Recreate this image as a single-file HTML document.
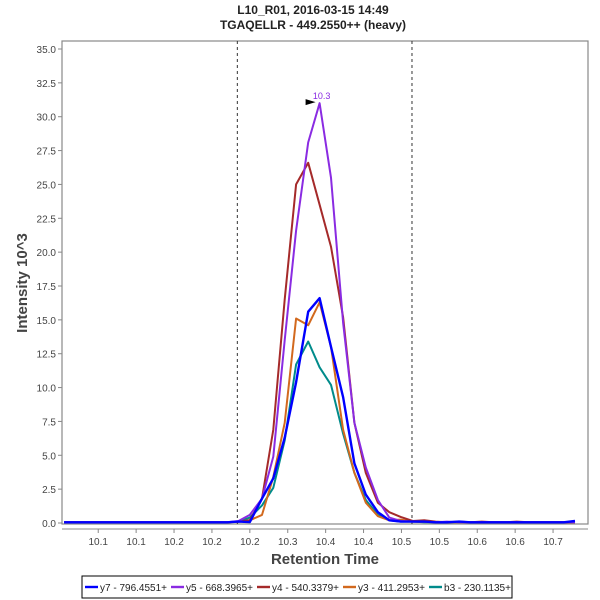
<!DOCTYPE html>
<html><head><meta charset="utf-8"><style>
body{margin:0;background:#fff;font-family:"Liberation Sans",sans-serif;}
svg{display:block}
</style></head><body>
<svg id="chart" width="600" height="600" xmlns="http://www.w3.org/2000/svg">
<rect width="600" height="600" fill="#fff"/>
<text x="313" y="14" text-anchor="middle" font-size="12" font-weight="bold" fill="#222">L10_R01, 2016-03-15 14:49</text>
<text x="313" y="29" text-anchor="middle" font-size="12" font-weight="bold" fill="#222">TGAQELLR - 449.2550++ (heavy)</text>
<g id="plot"></g>
<text x="325" y="564" text-anchor="middle" font-size="15" font-weight="bold" fill="#444">Retention Time</text>
<text transform="translate(27,283) rotate(-90)" text-anchor="middle" font-size="15" font-weight="bold" fill="#444">Intensity 10^3</text>
<g id="legend"></g>
</svg>
<script>
const times=[9.963,9.979,9.994,10.009,10.025,10.040,10.055,10.070,10.086,10.101,10.116,10.132,10.147,10.162,10.178,10.193,10.208,10.224,10.239,10.254,10.269,10.285,10.300,10.315,10.331,10.346,10.361,10.377,10.392,10.407,10.423,10.438,10.453,10.468,10.484,10.499,10.514,10.530,10.545,10.560,10.576,10.591,10.606,10.622,10.637];
const y7=[0.05,0.05,0.05,0.05,0.05,0.05,0.05,0.05,0.05,0.05,0.05,0.05,0.05,0.05,0.05,0.1,0.07,1.8,3.3,6.3,10.4,15.6,16.6,13.0,9.3,4.4,2.1,0.8,0.2,0.1,0.1,0.1,0.05,0.05,0.1,0.05,0.05,0.05,0.05,0.05,0.05,0.05,0.05,0.05,0.15];
const y5=[0.05,0.05,0.05,0.05,0.05,0.05,0.05,0.05,0.05,0.05,0.05,0.05,0.05,0.05,0.05,0.15,0.6,1.8,4.9,13.5,21.6,28.1,31.0,25.5,14.8,7.4,4.1,1.7,0.4,0.15,0.1,0.1,0.05,0.1,0.05,0.05,0.05,0.05,0.05,0.05,0.05,0.05,0.05,0.05,0.05];
const y4=[0.05,0.05,0.05,0.05,0.05,0.05,0.05,0.05,0.05,0.05,0.05,0.05,0.05,0.05,0.05,0.1,0.2,1.8,6.9,16.5,25.0,26.6,23.5,20.4,15.2,7.4,3.7,1.5,0.8,0.45,0.15,0.2,0.1,0.05,0.1,0.05,0.1,0.05,0.05,0.1,0.05,0.05,0.05,0.05,0.05];
const y3=[0.05,0.05,0.05,0.05,0.05,0.05,0.05,0.05,0.05,0.05,0.05,0.05,0.05,0.05,0.05,0.1,0.2,0.6,3.4,7.4,15.1,14.6,16.3,13.0,6.9,3.7,1.5,0.5,0.2,0.25,0.1,0.1,0.05,0.05,0.05,0.05,0.05,0.05,0.05,0.05,0.05,0.05,0.05,0.05,0.05];
const b3=[0.05,0.05,0.05,0.05,0.05,0.05,0.05,0.05,0.05,0.05,0.05,0.05,0.05,0.05,0.05,0.1,0.4,1.3,2.6,6.1,11.7,13.4,11.5,10.2,6.6,3.7,1.7,0.6,0.2,0.1,0.1,0.05,0.05,0.05,0.05,0.05,0.05,0.05,0.05,0.05,0.05,0.05,0.05,0.05,0.05];
const seriesNames=["y7 - 796.4551+","y5 - 668.3965+","y4 - 540.3379+","y3 - 411.2953+","b3 - 230.1135+"];
const xTickValues=[10.008,10.058,10.108,10.158,10.208,10.258,10.308,10.358,10.408,10.458,10.508,10.558,10.608];
const xTickLabels=["10.1","10.1","10.2","10.2","10.2","10.3","10.4","10.4","10.5","10.5","10.6","10.6","10.7"];
const yTickValues=[0,2.5,5,7.5,10,12.5,15,17.5,20,22.5,25,27.5,30,32.5,35];
const boundaryTimes=[10.1915,10.4219];
const peakTime=10.300, peakValue=31.0, peakLabel="10.3";

const NS="http://www.w3.org/2000/svg";
const L=62,R=588,T=41,B=524;
const xmin=9.9602,xmax=10.6541;
const X=t=>L+(t-xmin)/(xmax-xmin)*(R-L);
const Y=v=>523-v*(523-49)/35;
function mk(tag,attrs,parent){const e=document.createElementNS(NS,tag);for(const k in attrs)e.setAttribute(k,attrs[k]);parent.appendChild(e);return e;}
const plot=document.getElementById('plot');
const frame=mk('rect',{x:L,y:T,width:R-L,height:B-T,fill:'none',stroke:'#888','stroke-width':1.2},plot);


yTickValues.forEach(v=>{
  const g=mk('g',{},plot);
  
  
  mk('line',{x1:L-4,x2:L,y1:Y(v),y2:Y(v),stroke:'#888'},g);
  const t=mk('text',{x:L-6,y:Y(v)+4,'text-anchor':'end','font-size':10,fill:'#444'},g);
  t.textContent=v.toFixed(1);
});
mk('line',{x1:L,x2:R,y1:B+5,y2:B+5,stroke:'#888'},plot);
xTickValues.forEach((v,i)=>{
  const g=mk('g',{},plot);
  
  
  mk('line',{x1:X(v),x2:X(v),y1:B+5,y2:B+9,stroke:'#888'},g);
  const t=mk('text',{x:X(v),y:B+21,'text-anchor':'middle','font-size':10,fill:'#444'},g);
  t.textContent=xTickLabels[i];
});
boundaryTimes.forEach(b=>{
  const l=mk('line',{x1:X(b),x2:X(b),y1:T,y2:B,stroke:'#333','stroke-dasharray':'3,3','stroke-width':1},plot);
  
  
});
const colors=["#0000ff","#8a2be2","#a52a2a","#d2691e","#008b8b"];
const allSeries=[y7,y5,y4,y3,b3];
const order=[4,3,2,1,0];
order.forEach(si=>{
  const d=allSeries[si].map((v,i)=>(i?'L':'M')+X(times[i]).toFixed(1)+','+Y(v).toFixed(1)).join(' ');
  const p=mk('path',{d:d,fill:'none',stroke:colors[si],'stroke-width':si===0?2.4:2,'stroke-linejoin':'round'},plot);
  
  
});
const px=X(peakTime),py=Y(peakValue);
const tri=mk('path',{d:`M${px-14},${py-4} L${px-4},${py-1} L${px-14},${py+2} Z`,fill:'#000'},plot);


const pl=mk('text',{x:px+2,y:py-4,'text-anchor':'middle','font-size':9,fill:'#8a2be2'},plot);


pl.textContent=peakLabel;

const lg=document.getElementById('legend');
mk('rect',{x:82,y:576,width:430,height:22,fill:'#fff',stroke:'#000','stroke-width':1},lg);
seriesNames.forEach((n,i)=>{
  const cx=85+i*86;
  const g=mk('g',{},lg);
  
  
  mk('line',{x1:cx,x2:cx+13,y1:587,y2:587,stroke:colors[i],'stroke-width':2.4},g);
  const t=mk('text',{x:cx+15,y:591,'font-size':10,fill:'#222',textLength:67,lengthAdjust:'spacingAndGlyphs'},g);
  t.textContent=n;
});
</script>
</body></html>
